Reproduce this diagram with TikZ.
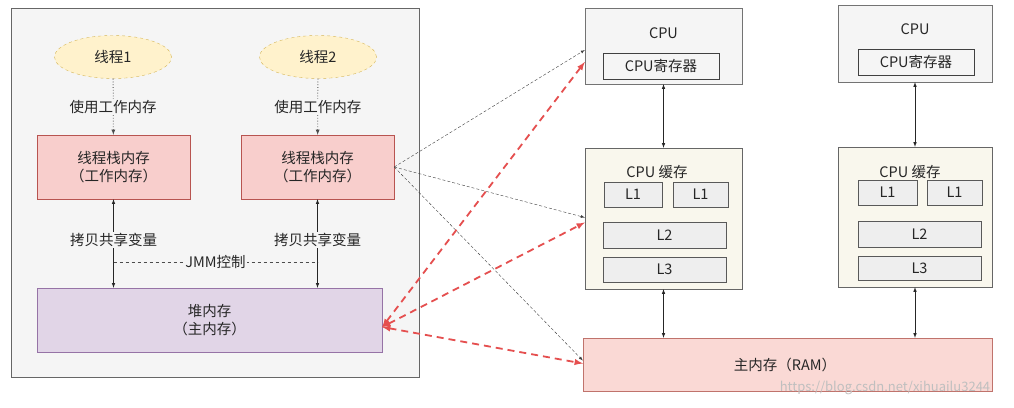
\documentclass[tikz,border=0pt]{standalone}
\usepackage{fontspec}
\setmainfont{Noto Sans CJK SC}
\usetikzlibrary{shapes.geometric,arrows}

\definecolor{txt}{HTML}{262626}
\definecolor{jvmfill}{HTML}{F5F5F5}
\definecolor{thrfill}{HTML}{FFF2CC}
\definecolor{thrdraw}{HTML}{D6B656}
\definecolor{stkfill}{HTML}{F8CECC}
\definecolor{stkdraw}{HTML}{B85450}
\definecolor{heapfill}{HTML}{E1D5E7}
\definecolor{heapdraw}{HTML}{9673A6}
\definecolor{cachefill}{HTML}{F9F7ED}
\definecolor{lfill}{HTML}{EEEEEE}
\definecolor{ramfill}{HTML}{FAD9D5}
\definecolor{ramdraw}{HTML}{C0736C}
\definecolor{redarr}{HTML}{E03030}

\tikzset{
  every node/.style={text=txt,font=\fontsize{14.5}{17.5}\selectfont,inner sep=0pt},
  thread/.style={ellipse,draw=thrdraw,fill=thrfill,dashed,thin},
  stack/.style={draw=stkdraw,fill=stkfill,align=center},
  heapbox/.style={draw=heapdraw,fill=heapfill,align=center},
  cpubox/.style={draw=black!55,fill=jvmfill},
  regbox/.style={draw=black!75,fill=jvmfill,thick},
  cachebox/.style={draw=black!60,fill=cachefill},
  lbox/.style={draw=black!65,fill=lfill},
  lbl/.style={fill=jvmfill,inner sep=1pt},
  use/.style={-latex,dotted,thick,black!70},
  copy/.style={latex-latex,semithick,black!85},
  bus/.style={latex-latex,semithick,black!85},
  map/.style={-latex,densely dashed,black!75},
  sync/.style={latex-latex,line width=1.8pt,redarr!85,dash pattern=on 7pt off 5pt},
}

\begin{document}
\begin{tikzpicture}[x=1pt,y=-1pt]
\useasboundingbox[fill=white] (0,0) rectangle (1014,407);

% JVM side
\node[draw=black!60,fill=jvmfill,minimum width=408pt,minimum height=369pt] (jvm) at (215,192.5) {};

\node[thread,minimum width=117pt,minimum height=43pt] (threadA) at (113,57) {线程1};
\node[thread,minimum width=117pt,minimum height=43pt] (threadB) at (318,57) {线程2};

\node[stack,minimum width=153pt,minimum height=64pt] (stackA) at (113.5,167) {线程栈内存\\（工作内存）};
\node[stack,minimum width=153pt,minimum height=64pt] (stackB) at (317.5,167) {线程栈内存\\（工作内存）};

\node[heapbox,minimum width=345pt,minimum height=64pt] (heap) at (209.5,320) {堆内存\\（主内存）};

\draw[use] (threadA) -- node[lbl,pos=0.5] {使用工作内存} (stackA);
\draw[use] (threadB) -- node[lbl,pos=0.5] {使用工作内存} (stackB);

\draw[copy] (stackA.south) -- node[lbl,pos=0.46] {拷贝共享变量} (stackA.south |- heap.north);
\draw[copy] (stackB.south) -- node[lbl,pos=0.46] {拷贝共享变量} (stackB.south |- heap.north);

\coordinate (jmmA) at (113.5,262);
\coordinate (jmmB) at (317.5,262);
\draw[dashed,black!70] (jmmA) -- node[lbl] {JMM控制} (jmmB);

% hardware side
\node[cpubox,minimum width=157pt,minimum height=76pt] (cpuA) at (663.5,46) {};
\node (cpuAt) at (663.5,33) {CPU};
\node[regbox,minimum width=116pt,minimum height=26pt] (regA) at (661,66) {CPU寄存器};

\node[cpubox,minimum width=154pt,minimum height=77pt] (cpuB) at (915,43.5) {};
\node (cpuBt) at (915,29) {CPU};
\node[regbox,minimum width=116pt,minimum height=26pt] (regB) at (916,62) {CPU寄存器};

\node[cachebox,minimum width=157pt,minimum height=141pt] (cacheA) at (663.5,218.5) {};
\node (cacheAt) at (657,172) {CPU 缓存};
\node[lbox,minimum width=58pt,minimum height=25pt] (l1A) at (633,194.5) {L1};
\node[lbox,minimum width=55pt,minimum height=25pt] (l1Ab) at (700.5,194.5) {L1};
\node[lbox,minimum width=123pt,minimum height=26pt] (l2A) at (664.5,235) {L2};
\node[lbox,minimum width=123pt,minimum height=25pt] (l3A) at (664.5,269.5) {L3};

\node[cachebox,minimum width=154pt,minimum height=140pt] (cacheB) at (915,217) {};
\node (cacheBt) at (910,172) {CPU 缓存};
\node[lbox,minimum width=59pt,minimum height=25pt] (l1B) at (887.5,192.5) {L1};
\node[lbox,minimum width=55pt,minimum height=25pt] (l1Bb) at (954.5,192.5) {L1};
\node[lbox,minimum width=123pt,minimum height=26pt] (l2B) at (919.5,234) {L2};
\node[lbox,minimum width=123pt,minimum height=24pt] (l3B) at (919.5,268) {L3};

\node[draw=ramdraw,fill=ramfill,minimum width=409pt,minimum height=53pt] (ram) at (787.5,364.5) {};
\node (ramt) at (785,365) {主内存（RAM）};

\draw[bus] (cpuA.south) -- (cacheA.north);
\draw[bus] (cacheA.south) -- (cacheA.south |- ram.north);
\draw[bus] (cpuB.south) -- (cacheB.north);
\draw[bus] (cacheB.south) -- (cacheB.south |- ram.north);

% mapping
\draw[map] (stackB.east) -- ([yshift=-4pt]cpuA.west);
\draw[map] (stackB.east) -- ([yshift=1pt]cacheA.west);
\draw[map] (stackB.east) -- ([yshift=4pt]ram.west);

\draw[sync] ([yshift=-7pt]heap.east) -- ([yshift=-16pt]cpuA.west);
\draw[sync] ([yshift=-7pt]heap.east) -- ([yshift=-4pt]cacheA.west);
\draw[sync] ([yshift=-7pt]heap.east) -- ([yshift=1pt]ram.west);

\node[text=black!25,font=\fontsize{13}{15}\selectfont] (mark) at (885,388) {https://blog.csdn.net/xihuailu3244};
\end{tikzpicture}
\end{document}
